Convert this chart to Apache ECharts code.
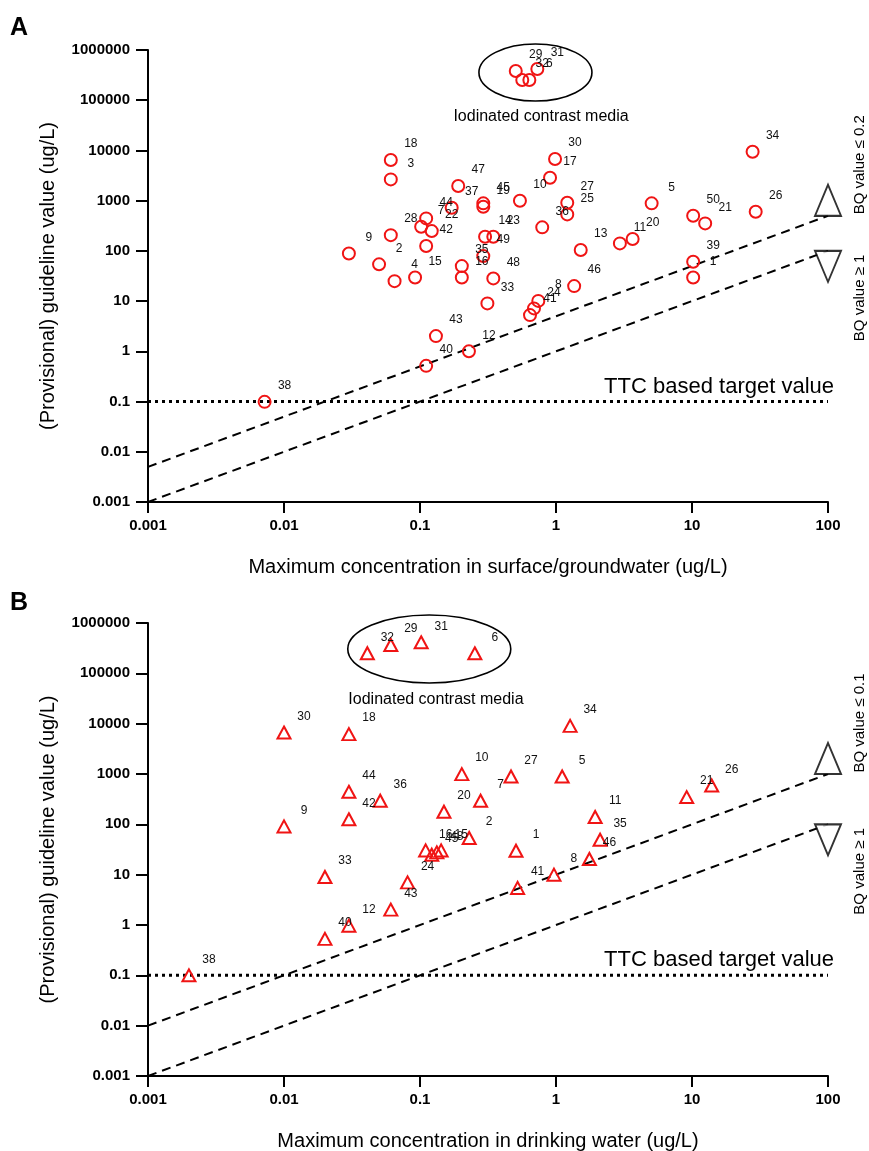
<!DOCTYPE html>
<html><head><meta charset="utf-8">
<script src="https://cdn.jsdelivr.net/npm/echarts/dist/echarts.min.js"></script>
<style>html,body{margin:0;padding:0;background:#fff}#c{width:869px;height:1151px}</style>
</head><body><div id="c"></div>
<script>
// ---------- DATA ----------
// Panel A: surface / groundwater
const idsA = [1,2,3,4,5,6,7,8,9,10,11,12,13,14,15,16,17,18,19,20,21,22,23,24,25,26,27,28,29,30,31,32,33,34,35,36,37,38,39,40,41,42,43,44,45,46,47,48,49,50];
const concA = [10.2,0.050,0.061,0.065,5.05,0.637,0.102,0.741,0.030,0.543,2.95,0.229,1.52,0.301,0.092,0.203,0.904,0.061,0.292,3.66,12.5,0.122,0.346,0.689,1.21,29.4,1.21,0.061,0.506,0.984,0.729,0.565,0.313,27.9,0.203,0.792,0.171,0.0072,10.2,0.111,0.644,0.111,0.131,0.111,0.292,1.36,0.191,0.346,0.292,10.2];
const guideA = [29.6,54,2650,25,884,252000,302,10.1,89,995,141,1.0,104,191,29.6,29.6,2860,6450,755,172,353,248,191,7.16,533,601,908,206,382000,6740,419000,252000,9.0,9420,49.8,294,722,0.0986,60.6,0.514,5.26,125,2.01,444,884,19.9,1953,28.3,78.8,500];
// Panel B: drinking water
const idsB = [1,2,5,6,7,8,9,10,11,12,15,16,18,20,21,24,26,27,29,30,31,32,33,34,35,36,38,40,41,42,43,44,45,46,48];
const concB = [0.508,0.230,1.11,0.253,0.279,0.966,0.010,0.203,1.94,0.030,0.143,0.110,0.030,0.150,9.14,0.081,13.96,0.467,0.061,0.010,0.102,0.041,0.020,1.27,2.11,0.051,0.0020,0.020,0.522,0.030,0.061,0.030,0.122,1.76,0.133];
const guideB = [29.9,53.5,892,250000,294,10,90.9,995,140,0.97,30.3,30.3,6190,178,348,7.03,591,892,365600,6660,414000,250500,9.0,9040,49.5,294,0.10,0.53,5.45,126,2.02,443,24.9,20.5,27.7];
// Reference lines
const ttcValue = 0.1;
const bqA = [0.2, 1];
const bqB = [0.1, 1];
const xRange = [0.001, 100];
const yRange = [0.001, 1000000];
const titlesX = ['Maximum concentration in surface/groundwater (ug/L)', 'Maximum concentration in drinking water (ug/L)'];
const titleY = '(Provisional) guideline value (ug/L)';

// ---------- CHART ----------
const FONT = '"Liberation Sans", Arial, Helvetica, sans-serif';
const chart = echarts.init(document.getElementById('c'), null, {renderer:'canvas'});
const fmt = v => String(Number(Number(v).toPrecision(3)));
const RED = '#f01414';

function xAx(gi){
  return {type:'log', logBase:10, gridIndex:gi, min:xRange[0], max:xRange[1], interval:1,
    name:titlesX[gi], nameLocation:'middle', nameGap:55, nameMoveOverlap:false,
    nameTextStyle:{fontSize:20, color:'#000', fontFamily:FONT},
    axisLine:{show:true, lineStyle:{color:'#000', width:2}},
    axisTick:{show:true, length:11, lineStyle:{color:'#000', width:2}},
    axisLabel:{formatter:fmt, color:'#000', fontWeight:'bold', fontSize:15, fontFamily:FONT, margin:16, showMinLabel:true, showMaxLabel:true, hideOverlap:false},
    splitLine:{show:false}, minorTick:{show:false}};
}
function yAx(gi){
  return {type:'log', logBase:10, gridIndex:gi, min:yRange[0], max:yRange[1], interval:1,
    name:titleY, nameLocation:'middle', nameGap:90, nameRotate:90, nameMoveOverlap:false,
    nameTextStyle:{fontSize:20, color:'#000', fontFamily:FONT},
    axisLine:{show:true, lineStyle:{color:'#000', width:2}},
    axisTick:{show:true, length:12, lineStyle:{color:'#000', width:2}},
    axisLabel:{formatter:fmt, color:'#000', fontWeight:'bold', fontSize:15, fontFamily:FONT, margin:18, showMinLabel:true, showMaxLabel:true, hideOverlap:false},
    splitLine:{show:false}, minorTick:{show:false}};
}
function pts(ids, xs, ys){ return ids.map((id,i)=>({name:String(id), value:[xs[i], ys[i]]})); }
function scatter(gi, ids, xs, ys, symbol, size){
  return {type:'scatter', xAxisIndex:gi, yAxisIndex:gi, data:pts(ids,xs,ys), symbol:symbol, symbolSize:size,
    itemStyle:{color:'rgba(255,255,255,0)', borderColor:RED, borderWidth:2, opacity:1},
    label:{show:true, formatter:'{b}', position:'inside', offset:[20,-16], color:'#111', fontSize:12, fontFamily:FONT},
    emphasis:{disabled:true}, z:5, silent:true};
}
function bqLine(gi, bq){
  return {type:'line', xAxisIndex:gi, yAxisIndex:gi, data:[[xRange[0], xRange[0]/bq],[xRange[1], xRange[1]/bq]],
    showSymbol:false, symbol:'none', lineStyle:{color:'#000', width:2, type:[9,6]}, silent:true, z:2, animation:false};
}
function ttcLine(gi){
  return {type:'line', xAxisIndex:gi, yAxisIndex:gi, data:[[xRange[0], ttcValue],[xRange[1], ttcValue]],
    showSymbol:false, symbol:'none', lineStyle:{color:'#000', width:3, type:[3,4], cap:'butt'}, silent:true, z:2, animation:false};
}
function endMarker(gi, bq, up){
  return {type:'scatter', xAxisIndex:gi, yAxisIndex:gi, data:[[xRange[1], xRange[1]/bq]],
    symbol: up ? 'path://M1,0 L2,2 L0,2 Z' : 'path://M0,0 L2,0 L1,2 Z', symbolSize:[26,31],
    symbolOffset:[0, up ? -15.5 : 15.5],
    itemStyle:{color:'#fff', borderColor:'#000', borderWidth:2}, silent:true, z:4, animation:false};
}

const option = {
  animation:false,
  backgroundColor:'#fff',
  textStyle:{fontFamily:FONT},
  grid:[
    {left:148, top:50, width:680, height:452, outerBoundsMode:'none', containLabel:false},
    {left:148, top:623, width:680, height:453, outerBoundsMode:'none', containLabel:false}
  ],
  xAxis:[xAx(0), xAx(1)],
  yAxis:[yAx(0), yAx(1)],
  series:[
    bqLine(0,bqA[0]), bqLine(0,bqA[1]), ttcLine(0),
    endMarker(0,bqA[0],true), endMarker(0,bqA[1],false),
    scatter(0, idsA, concA, guideA, 'circle', 12),
    bqLine(1,bqB[0]), bqLine(1,bqB[1]), ttcLine(1),
    endMarker(1,bqB[0],true), endMarker(1,bqB[1],false),
    scatter(1, idsB, concB, guideB, 'triangle', [13,12])
  ]
};
chart.setOption(option);

// ---------- ANNOTATIONS (anchored in data space) ----------
const ann = [
  {gi:0, ellipse:[0.706, 356000], ery:[56.5,28.5], label:[0.776, 46900], bq:bqA, bqText:['BQ value \u2264 0.2','BQ value \u2265 1'], letter:'A', letterY:28},
  {gi:1, ellipse:[0.117, 305000], ery:[81.5,34], label:[0.131, 30600], bq:bqB, bqText:['BQ value \u2264 0.1','BQ value \u2265 1'], letter:'B', letterY:603}
];
const g = [];
ann.forEach(a=>{
  const P = v => chart.convertToPixel({gridIndex:a.gi}, v);
  const c = P(a.ellipse);
  g.push({type:'ellipse', shape:{cx:c[0], cy:c[1], rx:a.ery[0], ry:a.ery[1]}, style:{fill:'none', stroke:'#000', lineWidth:1.6}, z:10});
  const l = P(a.label);
  g.push({type:'text', x:l[0], y:l[1], style:{text:'Iodinated contrast media', font:'16px '+FONT, fill:'#000', textAlign:'center', textVerticalAlign:'middle'}, z:10});
  const t = P([xRange[1], ttcValue]);
  g.push({type:'text', x:t[0]+6, y:t[1]-4, style:{text:'TTC based target value', font:'22px '+FONT, fill:'#000', textAlign:'right', textVerticalAlign:'bottom'}, z:10});
  const e1 = P([xRange[1], xRange[1]/a.bq[0]]);
  const e2 = P([xRange[1], xRange[1]/a.bq[1]]);
  g.push({type:'text', x:860, y:e1[1]-51, rotation:Math.PI/2, style:{text:a.bqText[0], font:'15px '+FONT, fill:'#000', textAlign:'center', textVerticalAlign:'middle'}, z:10});
  g.push({type:'text', x:860, y:e2[1]+47, rotation:Math.PI/2, style:{text:a.bqText[1], font:'15px '+FONT, fill:'#000', textAlign:'center', textVerticalAlign:'middle'}, z:10});
  g.push({type:'text', x:10, y:a.letterY, style:{text:a.letter, font:'bold 25px '+FONT, fill:'#000', textAlign:'left', textVerticalAlign:'middle'}, z:10});
});
chart.setOption({graphic:g});
</script></body></html>
